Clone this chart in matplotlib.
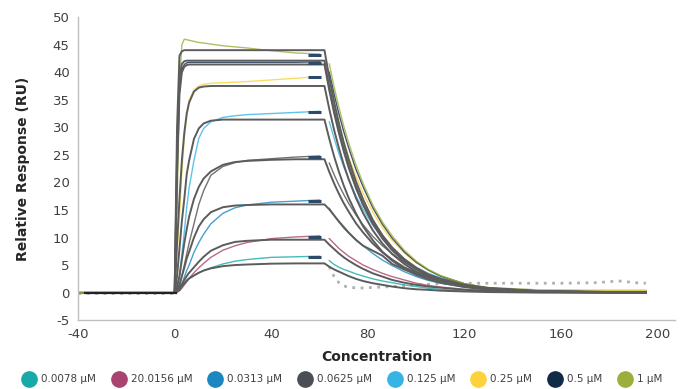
import matplotlib
matplotlib.use("Agg")
import matplotlib.pyplot as plt
from matplotlib.lines import Line2D

plt.rcParams["axes.unicode_minus"] = False

# ---------------- data ----------------
labels = ["0.0078 µM", "20.0156 µM", "0.0313 µM", "0.0625 µM",
          "0.125 µM", "0.25 µM", "0.5 µM", "1 µM"]
colors = ["#18aaa6", "#a8446f", "#1b86bf", "#4b4f55",
          "#36b5e5", "#fdd23c", "#112a48", "#9bb03c"]

t_base = [-40, -20, 0]
t_assoc = [0, 1, 2, 3, 4, 5, 6, 8, 10, 12, 15, 20, 25, 30, 40, 50, 60]
t_diss = [64, 66, 68, 70, 72, 75, 78, 82, 86, 90, 95, 100, 105, 110, 120, 130, 150, 170, 195]

assoc_data = [
    [0, 0.1, 0.4, 1.0, 1.5, 2.0, 2.5, 3.1, 3.6, 4.0, 4.5, 5.2, 5.7, 6.0, 6.4, 6.5, 6.6],
    [0, 0.1, 0.3, 0.8, 1.4, 2.0, 2.6, 3.6, 4.5, 5.3, 6.4, 7.7, 8.5, 9.1, 9.8, 10.1, 10.3],
    [0, 0.1, 0.5, 1.5, 2.8, 4.0, 5.0, 7.3, 9.1, 10.6, 12.5, 14.4, 15.4, 15.9, 16.4, 16.6, 16.8],
    [0, 0.3, 1.0, 3.0, 5.0, 7.0, 9.0, 12.5, 16.0, 18.5, 21.3, 22.9, 23.6, 24.0, 24.3, 24.6, 24.8],
    [0, 0.5, 3.0, 7.0, 11.0, 15.5, 19.0, 24.0, 28.0, 29.8, 31.0, 31.8, 32.1, 32.3, 32.5, 32.7, 32.9],
    [0, 7.0, 14.0, 22.0, 28.0, 32.0, 35.0, 36.8, 37.5, 37.8, 38.0, 38.1, 38.2, 38.3, 38.6, 38.9, 39.2],
    [0, 20.0, 37.0, 40.5, 41.4, 41.7, 41.8, 41.8, 41.8, 41.8, 41.8, 41.8, 41.8, 41.8, 41.8, 41.8, 41.9],
    [0, 15.0, 38.0, 45.0, 46.0, 45.9, 45.8, 45.6, 45.4, 45.3, 45.1, 44.8, 44.6, 44.4, 43.9, 43.5, 43.3],
]
diss_data = [
    [5.8, 5.1, 4.6, 4.2, 3.9, 3.4, 3.0, 2.5, 2.1, 1.8, 1.4, 1.1, 0.8, 0.6, 0.3, 0.2, 0.1, 0.1, 0.1],
    [9.8, 8.9, 8.0, 7.3, 6.6, 5.8, 5.0, 4.2, 3.5, 2.9, 2.3, 1.7, 1.3, 1.0, 0.6, 0.3, 0.1, 0.1, 0.1],
    [15.3, 14.0, 12.8, 11.7, 10.8, 9.5, 8.5, 7.1, 5.9, 4.9, 3.8, 2.9, 2.2, 1.7, 1.0, 0.6, 0.3, 0.2, 0.2],
    [23.5, 21.4, 19.5, 17.8, 16.2, 14.1, 12.3, 10.2, 8.5, 7.1, 5.5, 4.3, 3.3, 2.6, 1.5, 0.9, 0.4, 0.3, 0.3],
    [31.0, 28.0, 25.2, 22.8, 20.6, 17.6, 15.1, 12.2, 9.9, 8.0, 6.1, 4.6, 3.5, 2.7, 1.5, 0.9, 0.5, 0.4, 0.4],
    [37.0, 33.5, 30.2, 27.3, 24.6, 21.1, 18.0, 14.6, 11.8, 9.5, 7.2, 5.4, 4.0, 3.0, 1.6, 0.9, 0.5, 0.4, 0.4],
    [40.0, 36.0, 32.4, 29.2, 26.3, 22.4, 19.2, 15.4, 12.4, 9.9, 7.4, 5.5, 4.1, 3.0, 1.6, 0.8, 0.3, 0.1, 0.1],
    [41.5, 37.3, 33.6, 30.2, 27.2, 23.2, 19.8, 15.9, 12.8, 10.3, 7.7, 5.7, 4.2, 3.1, 1.6, 0.8, 0.2, -0.1, -0.1],
]

# fitted curves
t_fit_a = [0, 1, 2, 3, 4, 5, 6, 8, 10, 12, 15, 20, 25, 30, 40, 50, 62]
fit_assoc = [
    [0, 0.3, 0.6, 1.2, 1.7, 2.2, 2.6, 3.1, 3.6, 4.0, 4.4, 4.8, 5.0, 5.1, 5.25, 5.3, 5.3],
    [0, 0.4, 0.8, 1.5, 2.3, 3.0, 3.6, 4.6, 5.6, 6.5, 7.6, 8.6, 9.2, 9.4, 9.6, 9.6, 9.6],
    [0, 0.7, 1.5, 3.0, 4.5, 6.2, 7.4, 10.0, 12.0, 13.3, 14.6, 15.5, 15.8, 15.9, 16.0, 16.0, 16.0],
    [0, 1.2, 3.0, 6.0, 9.0, 11.5, 13.8, 17.0, 19.2, 20.7, 22.0, 23.2, 23.7, 23.9, 24.1, 24.2, 24.2],
    [0, 3.0, 8.0, 13.0, 17.0, 21.5, 24.0, 27.9, 29.8, 30.7, 31.2, 31.4, 31.4, 31.4, 31.4, 31.4, 31.4],
    [0, 9.0, 17.0, 24.0, 29.0, 32.5, 34.5, 36.5, 37.2, 37.4, 37.5, 37.5, 37.5, 37.5, 37.5, 37.5, 37.5],
    [0, 22.0, 36.0, 40.0, 41.0, 41.3, 41.4, 41.4, 41.4, 41.4, 41.4, 41.4, 41.4, 41.4, 41.4, 41.4, 41.4],
    [0, 25.0, 39.0, 41.5, 42.0, 42.1, 42.1, 42.1, 42.1, 42.1, 42.1, 42.1, 42.1, 42.1, 42.1, 42.1, 42.1],
    [0, 30.0, 43.0, 43.8, 44.0, 44.0, 44.0, 44.0, 44.0, 44.0, 44.0, 44.0, 44.0, 44.0, 44.0, 44.0, 44.0],
]
t_fit_d = [62, 64, 66, 68, 70, 72, 75, 78, 82, 86, 90, 95, 100, 105, 110, 120, 130, 150, 195]
fit_diss = [
    [5.3, 4.7, 4.2, 3.8, 3.4, 3.0, 2.5, 2.1, 1.7, 1.4, 1.1, 0.8, 0.6, 0.5, 0.35, 0.2, 0.1, 0.0, 0.0],
    [9.6, 8.7, 7.9, 7.1, 6.4, 5.8, 5.0, 4.3, 3.5, 2.9, 2.3, 1.8, 1.4, 1.1, 0.9, 0.5, 0.3, 0.1, 0.0],
    [16.0, 15.1, 14.0, 12.9, 11.9, 10.9, 9.6, 8.5, 7.6, 6.7, 5.2, 4.2, 3.4, 2.7, 2.1, 1.3, 0.8, 0.3, 0.0],
    [24.2, 21.9, 19.8, 17.9, 16.2, 14.7, 12.6, 10.9, 8.9, 7.3, 6.0, 4.6, 3.6, 2.8, 2.2, 1.3, 0.8, 0.3, 0.0],
    [31.4, 27.9, 24.7, 21.9, 19.4, 17.2, 14.4, 12.0, 9.5, 7.4, 5.8, 4.3, 3.2, 2.4, 1.8, 1.0, 0.5, 0.1, 0.0],
    [37.5, 33.3, 29.5, 26.2, 23.2, 20.6, 17.2, 14.4, 11.3, 8.9, 7.0, 5.2, 3.8, 2.9, 2.1, 1.2, 0.6, 0.2, 0.0],
    [41.4, 36.7, 32.6, 28.9, 25.6, 22.7, 19.0, 15.9, 12.5, 9.8, 7.7, 5.7, 4.2, 3.1, 2.3, 1.3, 0.7, 0.2, 0.0],
    [42.1, 37.3, 33.1, 29.4, 26.1, 23.1, 19.3, 16.1, 12.7, 10.0, 7.8, 5.8, 4.3, 3.2, 2.4, 1.3, 0.7, 0.2, 0.0],
    [44.0, 39.0, 34.6, 30.7, 27.2, 24.2, 20.2, 16.9, 13.2, 10.4, 8.2, 6.1, 4.5, 3.3, 2.5, 1.4, 0.7, 0.2, 0.0],
]

# reference (dotted) trace
t_ref_a = [-40, -20, 0]
ref_a = [-0.1, -0.1, -0.1]
t_ref_d = [64, 66, 68, 70, 72, 76, 80, 90, 100, 110, 120, 140, 160, 175, 180, 185, 190, 195]
ref_d = [4.7, 2.9, 1.8, 1.2, 1.0, 0.8, 0.9, 1.1, 1.4, 1.6, 1.7, 1.7, 1.7, 1.8, 2.0, 2.1, 1.8, 1.7]

# report-point dash window
t_report = [55, 60.5]

x_ticks = [-40, 0, 40, 80, 120, 160, 200]
y_ticks = [-5, 0, 5, 10, 15, 20, 25, 30, 35, 40, 45, 50]

# ---------------- plot ----------------
fig = plt.figure(figsize=(6.81, 3.89), dpi=100)
ax = fig.add_axes([0.1145, 0.177, 0.8765, 0.779])

fit_col = "#5c5c5c"
for i in range(len(labels)):
    c = colors[i]
    ax.plot(t_base + t_assoc[1:], [0, 0, 0] + assoc_data[i][1:], color=c, lw=1.0, alpha=0.8, zorder=2)
    ax.plot(t_diss, diss_data[i], color=c, lw=1.0, alpha=0.8, zorder=2)

for fa, fd in zip(fit_assoc, fit_diss):
    ax.plot(t_fit_a + t_fit_d[1:], fa + fd[1:], color=fit_col, lw=1.4, zorder=3)

# report-point dashes on data at end of association
for i in range(len(labels)):
    yv = assoc_data[i][-1]
    ax.plot(t_report, [yv - 0.15, yv - 0.15], color="#2f4a66", lw=2.2, solid_capstyle="butt", zorder=4)

ax.plot(t_ref_a, ref_a, ls=(0, (1, 2)), color="#b0b0b0", lw=2.0, zorder=1)
ax.plot(t_ref_d, ref_d, ls=(0, (1, 2)), color="#b0b0b0", lw=2.0, zorder=1)

# baseline before injection
ax.plot([-37, 0.6], [0, 0], color="#222222", lw=1.6, zorder=5)

ax.set_xlim(-40, 207)
ax.set_ylim(-5, 50)
ax.set_xticks(x_ticks)
ax.set_yticks(y_ticks)
for s in ["top", "right"]:
    ax.spines[s].set_visible(False)
for s in ["left", "bottom"]:
    ax.spines[s].set_color("#bfbfbf")
    ax.spines[s].set_linewidth(1.0)
ax.tick_params(length=0, labelsize=9.5, labelcolor="#404040", pad=6)
ax.set_xlabel("Concentration", fontsize=10, fontweight="bold", color="#262626", labelpad=6)
ax.set_ylabel("Relative Response (RU)", fontsize=10, fontweight="bold", color="#262626", labelpad=16)

handles = [Line2D([], [], marker="o", ls="none", markersize=11, markerfacecolor=c,
                  markeredgecolor=c) for c in colors]
fig.legend(handles, labels, loc="center", bbox_to_anchor=(0.5, 0.025), ncol=8, frameon=False,
           fontsize=7.5, handletextpad=0.15, columnspacing=1.2, labelcolor="#404040")

fig.savefig("out.png", dpi=100)
